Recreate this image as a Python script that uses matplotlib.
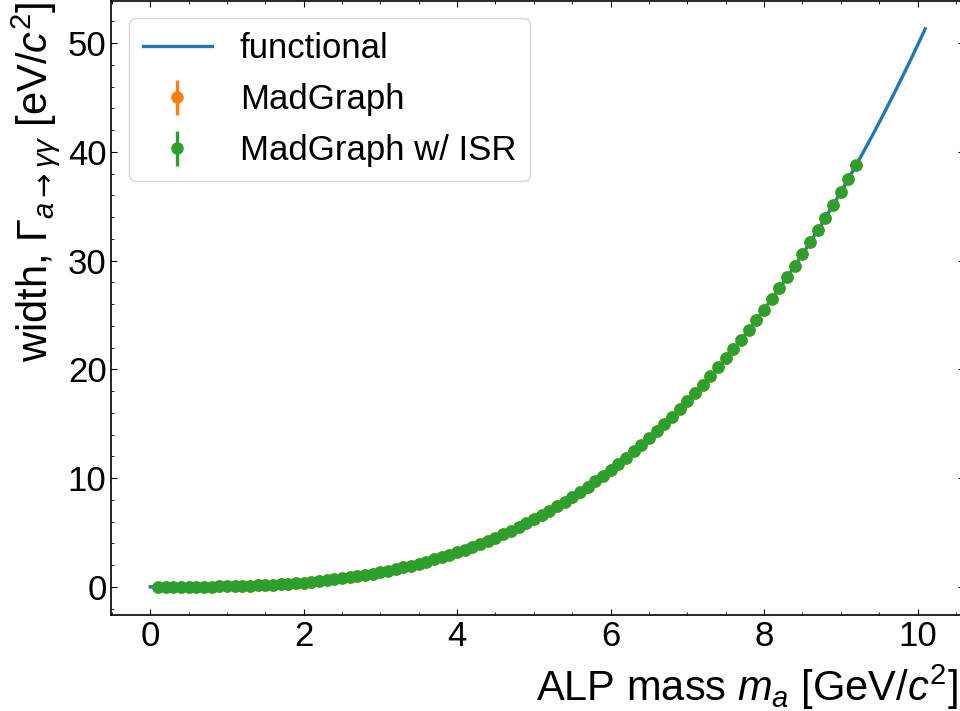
import matplotlib
matplotlib.use('Agg')
import matplotlib.pyplot as plt
from matplotlib.ticker import MultipleLocator

plt.rcParams['font.family'] = ['Liberation Sans', 'DejaVu Sans']
plt.rcParams['mathtext.fontset'] = 'custom'
plt.rcParams['mathtext.rm'] = 'Liberation Sans'
plt.rcParams['mathtext.it'] = 'Liberation Sans:italic'
plt.rcParams['mathtext.bf'] = 'Liberation Sans:bold'
plt.rcParams['mathtext.sf'] = 'DejaVu Sans'

# functional curve, ALP mass [GeV/c^2] vs width [eV/c^2]
mass_fn = [0.0, 0.1, 0.2, 0.3, 0.4, 0.5, 0.6, 0.7, 0.8, 0.9,
           1.0, 1.1, 1.2, 1.3, 1.4, 1.5, 1.6, 1.7, 1.8, 1.9,
           2.0, 2.1, 2.2, 2.3, 2.4, 2.5, 2.6, 2.7, 2.8, 2.9,
           3.0, 3.1, 3.2, 3.3, 3.4, 3.5, 3.6, 3.7, 3.8, 3.9,
           4.0, 4.1, 4.2, 4.3, 4.4, 4.5, 4.6, 4.7, 4.8, 4.9,
           5.0, 5.1, 5.2, 5.3, 5.4, 5.5, 5.6, 5.7, 5.8, 5.9,
           6.0, 6.1, 6.2, 6.3, 6.4, 6.5, 6.6, 6.7, 6.8, 6.9,
           7.0, 7.1, 7.2, 7.3, 7.4, 7.5, 7.6, 7.7, 7.8, 7.9,
           8.0, 8.1, 8.2, 8.3, 8.4, 8.5, 8.6, 8.7, 8.8, 8.9,
           9.0, 9.1, 9.2, 9.3, 9.4, 9.5, 9.6, 9.7, 9.8, 9.9,
           10.0, 10.1]
width_fn = [0.0, 0.0, 0.0, 0.0, 0.0, 0.01, 0.01, 0.02, 0.03, 0.04,
            0.05, 0.07, 0.09, 0.11, 0.14, 0.17, 0.20, 0.24, 0.29, 0.34,
            0.40, 0.46, 0.53, 0.61, 0.69, 0.78, 0.88, 0.98, 1.09, 1.21,
            1.34, 1.48, 1.63, 1.79, 1.96, 2.14, 2.32, 2.52, 2.73, 2.95,
            3.19, 3.43, 3.69, 3.96, 4.24, 4.54, 4.85, 5.17, 5.51, 5.86,
            6.23, 6.61, 7.00, 7.41, 7.84, 8.29, 8.75, 9.22, 9.72, 10.23,
            10.76, 11.30, 11.87, 12.45, 13.05, 13.68, 14.32, 14.98, 15.66, 16.36,
            17.08, 17.82, 18.59, 19.37, 20.18, 21.01, 21.86, 22.74, 23.63, 24.55,
            25.50, 26.47, 27.46, 28.48, 29.52, 30.58, 31.68, 32.79, 33.94, 35.11,
            36.30, 37.53, 38.78, 40.06, 41.36, 42.70, 44.06, 45.45, 46.87, 48.32,
            49.80, 51.31]

# MadGraph points
mass_mg = [0.1, 0.2, 0.3, 0.4, 0.5, 0.6, 0.7, 0.8, 0.9,
           1.0, 1.1, 1.2, 1.3, 1.4, 1.5, 1.6, 1.7, 1.8, 1.9,
           2.0, 2.1, 2.2, 2.3, 2.4, 2.5, 2.6, 2.7, 2.8, 2.9,
           3.0, 3.1, 3.2, 3.3, 3.4, 3.5, 3.6, 3.7, 3.8, 3.9,
           4.0, 4.1, 4.2, 4.3, 4.4, 4.5, 4.6, 4.7, 4.8, 4.9,
           5.0, 5.1, 5.2, 5.3, 5.4, 5.5, 5.6, 5.7, 5.8, 5.9,
           6.0, 6.1, 6.2, 6.3, 6.4, 6.5, 6.6, 6.7, 6.8, 6.9,
           7.0, 7.1, 7.2, 7.3, 7.4, 7.5, 7.6, 7.7, 7.8, 7.9,
           8.0, 8.1, 8.2, 8.3, 8.4, 8.5, 8.6, 8.7, 8.8, 8.9,
           9.0, 9.1, 9.2]
width_mg = [0.0, 0.0, 0.0, 0.0, 0.01, 0.01, 0.02, 0.03, 0.04,
            0.05, 0.07, 0.09, 0.11, 0.14, 0.17, 0.20, 0.24, 0.29, 0.34,
            0.40, 0.46, 0.53, 0.61, 0.69, 0.78, 0.88, 0.98, 1.09, 1.21,
            1.34, 1.48, 1.63, 1.79, 1.96, 2.14, 2.32, 2.52, 2.73, 2.95,
            3.19, 3.43, 3.69, 3.96, 4.24, 4.54, 4.85, 5.17, 5.51, 5.86,
            6.23, 6.61, 7.00, 7.41, 7.84, 8.29, 8.75, 9.22, 9.72, 10.23,
            10.76, 11.30, 11.87, 12.45, 13.05, 13.68, 14.32, 14.98, 15.66, 16.36,
            17.08, 17.82, 18.59, 19.37, 20.18, 21.01, 21.86, 22.74, 23.63, 24.55,
            25.50, 26.47, 27.46, 28.48, 29.52, 30.58, 31.68, 32.79, 33.94, 35.11,
            36.30, 37.53, 38.78]
width_isr = list(width_mg)
err_mg = [0.02] * len(mass_mg)
err_isr = [0.02] * len(mass_mg)

fig = plt.figure(figsize=(9.6, 7.11), dpi=100)
ax = fig.add_axes([0.1161, 0.135, 0.888, 0.8636])

ax.plot(mass_fn, width_fn, color='tab:blue', lw=2.4, label='functional')
ax.errorbar(mass_mg, width_mg, yerr=err_mg, fmt='o', color='tab:orange',
            ms=8, elinewidth=2.4, label='MadGraph')
ax.errorbar(mass_mg, width_isr, yerr=err_isr, fmt='o', color='tab:green',
            ms=8, elinewidth=2.4, label='MadGraph w/ ISR')

ax.xaxis.set_major_locator(MultipleLocator(2))
ax.xaxis.set_minor_locator(MultipleLocator(0.5))
ax.yaxis.set_major_locator(MultipleLocator(10))
ax.yaxis.set_minor_locator(MultipleLocator(2))
ax.tick_params(which='both', direction='in', top=True, right=True, labelsize=25)
ax.tick_params(which='major', length=4.5)
ax.tick_params(which='minor', length=2.5)
for s in ax.spines.values():
    s.set_linewidth(1.2)

ax.set_xlabel(r'ALP mass $m_a$ [GeV/$c^2$]', fontsize=30, ha='right', va='top')
ax.xaxis.set_label_coords(0.993, -0.078)
ax.set_ylabel(r'width, $\Gamma_{a\mathsf{\rightarrow}\gamma\gamma}$ [eV/$c^2$]', fontsize=30, loc='top')

ax.legend(loc='upper left', fontsize=25, labelspacing=0.52)

fig.savefig('out.png', dpi=100)
